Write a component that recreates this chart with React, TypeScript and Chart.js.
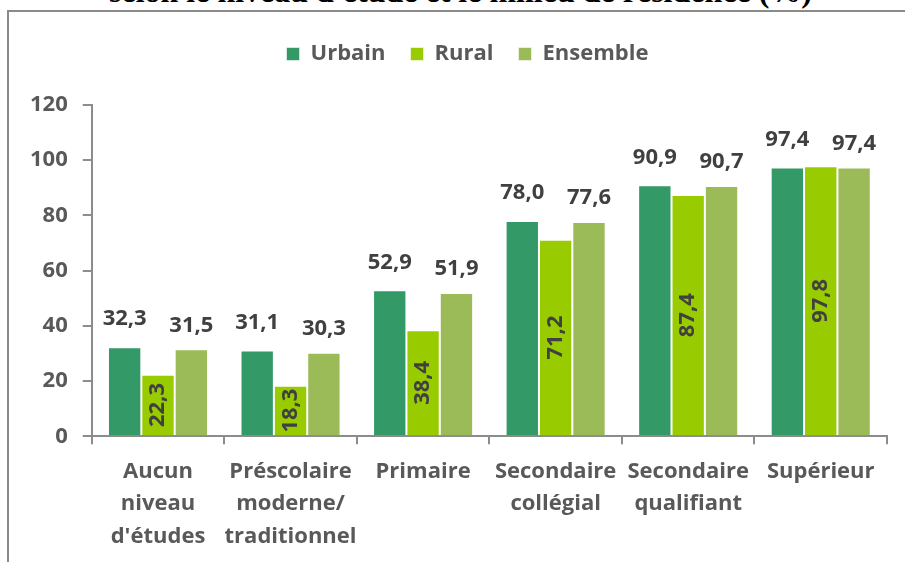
import { useEffect, useRef } from "react";
import { Chart, registerables } from "chart.js";

Chart.register(...registerables);

const categories: (string | string[])[] = [
  ["Aucun", "niveau", "d'études"],
  ["Préscolaire", "moderne/", "traditionnel"],
  "Primaire",
  ["Secondaire", "collégial"],
  ["Secondaire", "qualifiant"],
  "Supérieur",
];
const urbain = [32.3, 31.1, 52.9, 78.0, 90.9, 97.4];
const rural = [22.3, 18.3, 38.4, 71.2, 87.4, 97.8];
const ensemble = [31.5, 30.3, 51.9, 77.6, 90.7, 97.4];
const seriesNames = ["Urbain", "Rural", "Ensemble"];
const yTicks = { min: 0, max: 120, step: 20 };
const titleText = "selon le niveau d'étude et le milieu de résidence (%)";

const FONT = '"Open Sans", "DejaVu Sans", sans-serif';
const AXIS_GREY = "#8c8c8c";
const TEXT_GREY = "#595959";
const LABEL_DARK = "#404040";

const fmt = (v: number) => v.toFixed(1).replace(".", ",");

const valueLabels = {
  id: "valueLabels",
  afterDatasetsDraw(chart: any) {
    const ctx = chart.ctx;
    chart.data.datasets.forEach((ds: any, di: number) => {
      const meta = chart.getDatasetMeta(di);
      meta.data.forEach((bar: any, i: number) => {
        const text = fmt(ds.data[i]);
        ctx.save();
        ctx.font = `bold 22px ${FONT}`;
        ctx.fillStyle = LABEL_DARK;
        ctx.textAlign = "center";
        ctx.textBaseline = "middle";
        if (di === 1) {
          const yc = (bar.y + bar.base) / 2;
          ctx.translate(bar.x, yc);
          ctx.rotate(-Math.PI / 2);
          ctx.fillText(text, 0, 0);
        } else {
          const off = di === 0 ? 28 : 24;
          ctx.fillText(text, bar.x, bar.y - off);
        }
        ctx.restore();
      });
    });
  },
};

const legendTweak = {
  id: "legendTweak",
  afterInit(chart: any) {
    const lg = chart.legend;
    if (!lg || lg._gapPatched) return;
    const orig = lg.fit;
    lg.fit = function () {
      orig.call(this);
      this.height += 30;
    };
    lg._gapPatched = true;
  },
  afterLayout(chart: any) {
    const lg = chart.legend;
    if (lg) lg.left += 33;
  },
};

export default function App() {
  const ref = useRef<HTMLCanvasElement | null>(null);

  useEffect(() => {
    if (!ref.current) return;
    const chart = new Chart(ref.current, {
      type: "bar",
      data: {
        labels: categories,
        datasets: [
          { label: seriesNames[0], data: urbain, backgroundColor: "#339966" },
          { label: seriesNames[1], data: rural, backgroundColor: "#99cc00" },
          { label: seriesNames[2], data: ensemble, backgroundColor: "#9bbb59" },
        ].map((d) => ({
          ...d,
          borderColor: "rgba(255,255,255,0.55)",
          borderWidth: 1,
          categoryPercentage: 0.755,
          barPercentage: 1.0,
        })),
      },
      options: {
        responsive: false,
        animation: false,
        layout: { padding: { left: 15, right: 18, top: 18, bottom: 16 } },
        plugins: {
          legend: {
            position: "top",
            labels: {
              boxWidth: 13,
              boxHeight: 13,
              padding: 25,
              color: TEXT_GREY,
              font: { family: FONT, size: 22, weight: "bold" },
            },
          },
          title: { display: false },
          tooltip: { enabled: false },
        },
        scales: {
          x: {
            grid: {
              display: true,
              drawOnChartArea: false,
              drawTicks: true,
              tickLength: 8,
              color: AXIS_GREY,
              lineWidth: 2,
              offset: true,
            },
            border: { display: true, color: AXIS_GREY, width: 2 },
            ticks: {
              color: TEXT_GREY,
              padding: 11,
              maxRotation: 0,
              autoSkip: false,
              font: { family: FONT, size: 22, weight: "bold", lineHeight: 1.48 },
            },
          },
          y: {
            min: yTicks.min,
            max: yTicks.max,
            grid: {
              display: true,
              drawOnChartArea: false,
              drawTicks: true,
              tickLength: 9,
              color: AXIS_GREY,
              lineWidth: 2,
            },
            border: { display: true, color: AXIS_GREY, width: 2 },
            ticks: {
              stepSize: yTicks.step,
              color: TEXT_GREY,
              padding: 15,
              font: { family: FONT, size: 22, weight: "bold" },
            },
          },
        },
      },
      plugins: [valueLabels, legendTweak],
    });
    return () => chart.destroy();
  }, []);

  return (
    <div
      style={{
        position: "fixed",
        left: 0,
        top: 0,
        width: 905,
        height: 562,
        overflow: "hidden",
        background: "#fff",
      }}
    >
      <div
        style={{
          position: "absolute",
          left: 8,
          top: -25,
          width: 905,
          textAlign: "center",
          fontFamily: '"Liberation Serif", "Times New Roman", serif',
          fontWeight: "bold",
          fontSize: 32,
          lineHeight: "32px",
          whiteSpace: "nowrap",
          color: "#000",
        }}
      >
        {titleText}
      </div>
      <div
        style={{
          position: "absolute",
          left: 7,
          top: 10,
          width: 940,
          height: 600,
          borderTop: "2px solid #8a8a8a",
          borderLeft: "2px solid #8a8a8a",
        }}
      />
      <canvas
        ref={ref}
        width={905}
        height={580}
        style={{ position: "absolute", left: 0, top: 0, width: 905, height: 580 }}
      />
    </div>
  );
}
